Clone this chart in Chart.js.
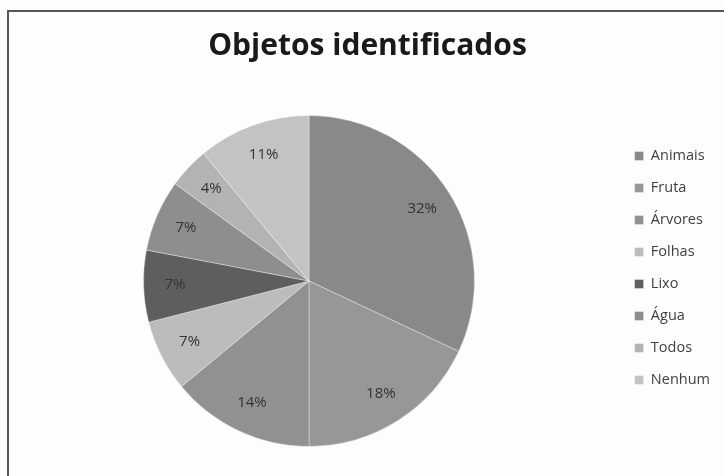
<!DOCTYPE html>
<html>
<head>
<meta charset="utf-8">
<script src="https://cdn.jsdelivr.net/npm/chart.js@4/dist/chart.umd.min.js"></script>
<style>
  html, body { margin: 0; padding: 0; background: #fdfdfd; }
  #wrap { position: relative; width: 724px; height: 476px; overflow: hidden; background: #fdfdfd; }
  #frame { position: absolute; left: 7px; top: 10px; width: 730px; height: 480px;
           border-left: 2px solid #555; border-top: 2px solid #555; box-sizing: border-box; }
  canvas { position: absolute; left: 0; top: 0; }
</style>
</head>
<body>
<div id="wrap">
  <div id="frame"></div>
  <canvas id="c" width="724" height="476"></canvas>
</div>
<script>
const chartTitle = "Objetos identificados";
const categories = ["Animais", "Fruta", "Árvores", "Folhas", "Lixo", "Água", "Todos", "Nenhum"];
const percentages = [32, 18, 14, 7, 7, 7, 4, 11];
const sliceColors = ["#898989", "#979797", "#919191", "#bcbcbc", "#5e5e5e", "#8e8e8e", "#b3b3b3", "#c3c3c3"];

const FONT = "'Open Sans', 'Noto Sans', sans-serif";

// place the pie's plot area and the legend where the reference has them
const placeBoxes = {
  id: 'placeBoxes',
  afterLayout(chart) {
    const a = chart.chartArea;
    a.left = 143; a.right = 475; a.top = 114; a.bottom = 448;
    a.width = a.right - a.left; a.height = a.bottom - a.top;
    const lg = chart.legend;
    if (lg) { lg.top += 30; lg.bottom += 30; }
  }
};

const pctLabels = {
  id: 'pctLabels',
  afterDatasetsDraw(chart) {
    const ctx = chart.ctx;
    const meta = chart.getDatasetMeta(0);
    ctx.save();
    ctx.font = "15px " + FONT;
    ctx.fillStyle = "#333333";
    ctx.textAlign = "center";
    ctx.textBaseline = "middle";
    meta.data.forEach((arc, i) => {
      const p = arc.getProps(['x', 'y', 'startAngle', 'endAngle', 'outerRadius'], true);
      const mid = (p.startAngle + p.endAngle) / 2;
      const r = p.outerRadius * 0.81;
      ctx.fillText(percentages[i] + "%", p.x + Math.cos(mid) * r, p.y + Math.sin(mid) * r);
    });
    ctx.restore();
  }
};

new Chart(document.getElementById('c'), {
  type: 'pie',
  data: {
    labels: categories,
    datasets: [{
      data: percentages,
      backgroundColor: sliceColors,
      borderColor: "rgba(255,255,255,0.35)",
      borderWidth: 1
    }]
  },
  options: {
    responsive: false,
    animation: false,
    layout: { padding: { left: 15, right: 4, top: 0, bottom: 0 } },
    plugins: {
      title: {
        display: true,
        text: chartTitle,
        color: "#1a1a1a",
        font: { family: FONT, size: 30, weight: 'bold', lineHeight: 1.2 },
        padding: { top: 28, bottom: 40 }
      },
      legend: {
        position: 'right',
        align: 'center',
        labels: {
          color: "#404040",
          font: { family: FONT, size: 14.5 },
          boxWidth: 9,
          boxHeight: 9,
          padding: 17.5
        }
      },
      tooltip: { enabled: false }
    }
  },
  plugins: [placeBoxes, pctLabels]
});
</script>
</body>
</html>
